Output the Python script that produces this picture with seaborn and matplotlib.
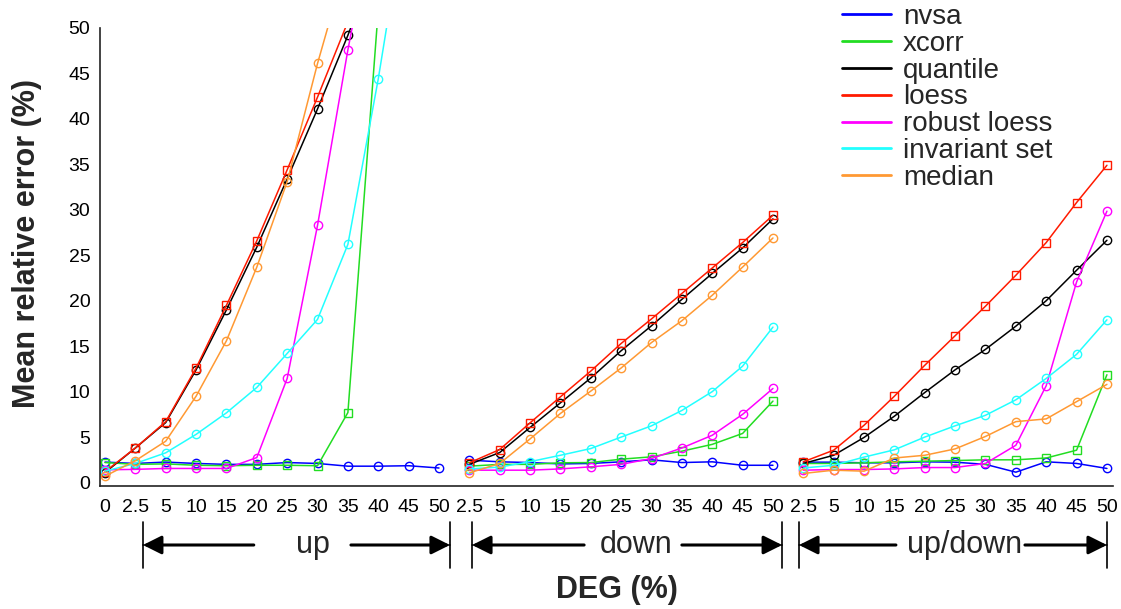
import numpy as np
import pandas as pd
import matplotlib
matplotlib.use("Agg")
import matplotlib.pyplot as plt
import matplotlib.transforms as mtransforms
from matplotlib.lines import Line2D
from matplotlib.patches import ArrowStyle
import seaborn as sns

# ---- data -------------------------------------------------------------
deg_up = ["0", "2.5", "5", "10", "15", "20", "25", "30", "35", "40", "45", "50"]
deg_down = ["2.5", "5", "10", "15", "20", "25", "30", "35", "40", "45", "50"]
deg_updown = ["2.5", "5", "10", "15", "20", "25", "30", "35", "40", "45", "50"]
panels = ["up", "down", "up/down"]
methods = ["nvsa", "xcorr", "quantile", "loess", "robust loess", "invariant set", "median"]
colors = ["#0000ff", "#22dd22", "#000000", "#ff1a00", "#ff00ff", "#22ffff", "#ff9933"]
markers = ["o", "s", "o", "s", "o", "o", "o"]

# up (values above 50 run off the top of the chart)
up_nvsa = [2.25, 2.1, 2.25, 2.1, 2.0, 2.0, 2.2, 2.1, 1.8, 1.8, 1.85, 1.6]
up_xcorr = [2.2, 2.0, 2.05, 1.9, 1.85, 1.9, 1.9, 1.85, 7.7, 52, 60, 70]
up_quantile = [1.1, 3.8, 6.6, 12.4, 19.0, 25.9, 33.4, 41.1, 49.2, 58, 66, 74]
up_loess = [1.2, 3.8, 6.7, 12.6, 19.5, 26.6, 34.4, 42.4, 50.7, 59, 67, 75]
up_robust = [1.4, 1.45, 1.55, 1.55, 1.55, 2.75, 11.45, 28.3, 47.6, 65, 75, 85]
up_invariant = [1.25, 2.1, 3.27, 5.3, 7.67, 10.46, 14.2, 17.95, 26.2, 44.4, 65, 75]
up_median = [0.7, 2.4, 4.55, 9.5, 15.6, 23.7, 33.1, 46.1, 57.8, 65, 72, 80]

# down
down_nvsa = [2.46, 2.28, 2.2, 2.05, 2.1, 2.28, 2.5, 2.2, 2.28, 1.9, 1.9]
down_xcorr = [1.8, 2.0, 2.0, 2.17, 2.2, 2.57, 2.83, 3.45, 4.2, 5.4, 8.96]
down_quantile = [2.0, 3.3, 6.06, 8.77, 11.5, 14.5, 17.25, 20.15, 23.0, 25.8, 29.0]
down_loess = [2.17, 3.63, 6.57, 9.43, 12.26, 15.3, 18.0, 20.8, 23.6, 26.4, 29.4]
down_robust = [1.36, 1.36, 1.36, 1.5, 1.73, 2.0, 2.64, 3.8, 5.2, 7.5, 10.35]
down_invariant = [1.5, 1.7, 2.3, 3.0, 3.74, 5.0, 6.24, 7.93, 10.0, 12.8, 17.1]
down_median = [1.06, 2.1, 4.8, 7.6, 10.06, 12.6, 15.4, 17.8, 20.6, 23.7, 26.9]

# up/down
updown_nvsa = [2.24, 2.24, 2.17, 2.17, 2.28, 2.24, 2.0, 1.14, 2.28, 2.1, 1.55]
updown_xcorr = [2.1, 2.1, 2.17, 2.28, 2.35, 2.42, 2.5, 2.5, 2.7, 3.56, 11.86]
updown_quantile = [2.1, 3.0, 4.96, 7.3, 9.9, 12.4, 14.65, 17.2, 20.0, 23.35, 26.65]
updown_loess = [2.28, 3.56, 6.3, 9.5, 12.9, 16.15, 19.4, 22.8, 26.4, 30.8, 34.9]
updown_robust = [1.36, 1.43, 1.43, 1.5, 1.65, 1.65, 2.1, 4.1, 10.65, 22.06, 29.85]
updown_invariant = [1.6, 1.9, 2.8, 3.6, 5.0, 6.24, 7.4, 9.1, 11.45, 14.1, 17.9]
updown_median = [1.0, 1.36, 1.25, 2.7, 3.0, 3.7, 5.07, 6.7, 7.0, 8.9, 10.8]

series = {
    "up": [up_nvsa, up_xcorr, up_quantile, up_loess, up_robust, up_invariant, up_median],
    "down": [down_nvsa, down_xcorr, down_quantile, down_loess, down_robust, down_invariant, down_median],
    "up/down": [updown_nvsa, updown_xcorr, updown_quantile, updown_loess, updown_robust,
                updown_invariant, updown_median],
}
panel_labels = {"up": deg_up, "down": deg_down, "up/down": deg_updown}

# build long table; x is the running category position
rows = []
tick_labels = []
offset = 0
for p in panels:
    labs = panel_labels[p]
    for m, vals in zip(methods, series[p]):
        for i, v in enumerate(vals):
            rows.append({"pos": offset + i, "value": v, "method": m, "panel": p})
    tick_labels += labs
    offset += len(labs)
df = pd.DataFrame(rows)

# ---- plot -------------------------------------------------------------
sns.set_theme(style="white")
plt.rcParams["font.family"] = ["Liberation Sans", "DejaVu Sans"]

fig = plt.figure(figsize=(11.21, 6.09), dpi=100)
ax = fig.add_axes([100 / 1121, 1 - 486 / 609, 1013 / 1121, 458 / 609])

sns.lineplot(data=df, x="pos", y="value", hue="method", style="method",
             units="panel", estimator=None, hue_order=methods, style_order=methods,
             palette=dict(zip(methods, colors)), markers=dict(zip(methods, markers)),
             dashes=False, linewidth=1.1, markersize=6, legend=False, ax=ax)

for ln in ax.lines:
    c = ln.get_color()
    ln.set_markerfacecolor("none")
    ln.set_markeredgecolor(c)
    ln.set_markeredgewidth(1.0)

ax.set_ylim(-0.38, 50)
ax.set_xlim(-0.165, 33.2)
ax.set_yticks(np.arange(0, 51, 5))
ax.set_xticks(np.arange(len(tick_labels)))
ax.set_xticklabels(tick_labels)
ax.tick_params(axis="both", direction="in", length=8, width=1, colors="black",
               labelsize=14)
ax.tick_params(axis="x", pad=9)
ax.tick_params(axis="y", pad=7, length=7)
ax.set_xlabel("")
ax.set_ylabel("")
for s in ["top", "right"]:
    ax.spines[s].set_visible(False)
for s in ["left", "bottom"]:
    ax.spines[s].set_color("#222222")
    ax.spines[s].set_linewidth(1.2)

fig.text(27 / 1121, 1 - 243 / 609, "Mean relative error (%)", rotation=90,
         fontsize=22, fontweight="bold", ha="center", va="center")
fig.text(617 / 1121, 1 - 590 / 609, "DEG (%)", fontsize=22, fontweight="bold",
         ha="center", va="center")

# group arrows below the tick labels
trans = mtransforms.blended_transform_factory(ax.transData, ax.transAxes)
yarr = (486 - 545) / 458
arrow_specs = [
    ("up", 1.25, 4.90, 8.10, 11.36, 6.85),
    ("down", 12.09, 15.78, 19.00, 22.30, 17.50),
    ("up/down", 22.86, 26.05, 30.30, 33.0, 28.32),
]
for text, l_end, l_txt, r_txt, r_end, cx in arrow_specs:
    ax.text(cx, yarr, text, transform=trans, fontsize=22, ha="center", va="center",
            clip_on=False)
    for a, b in [(l_txt, l_end), (r_txt, r_end)]:
        ax.annotate("", xy=(b, yarr), xycoords=trans, xytext=(a, yarr), textcoords=trans,
                    arrowprops=dict(arrowstyle="-|>", color="black", lw=2.2,
                                    mutation_scale=28, shrinkA=0, shrinkB=0),
                    annotation_clip=False)
        ax.annotate("", xy=(b, yarr), xycoords=trans, xytext=(a, yarr), textcoords=trans,
                    arrowprops=dict(arrowstyle=ArrowStyle("|-|", widthA=0, widthB=0.6),
                                    color="black", lw=1.2, mutation_scale=28,
                                    shrinkA=0, shrinkB=0),
                    annotation_clip=False)

handles = [Line2D([0], [0], color=c, lw=2) for c in colors]
fig.legend(handles, methods, loc="upper left", bbox_to_anchor=(842 / 1121, 1 - 4 / 609),
           bbox_transform=fig.transFigure, frameon=False, fontsize=20,
           handlelength=1.75, handletextpad=0.45, labelspacing=0.03, borderpad=0,
           borderaxespad=0)

fig.savefig("out.png", dpi=100)
